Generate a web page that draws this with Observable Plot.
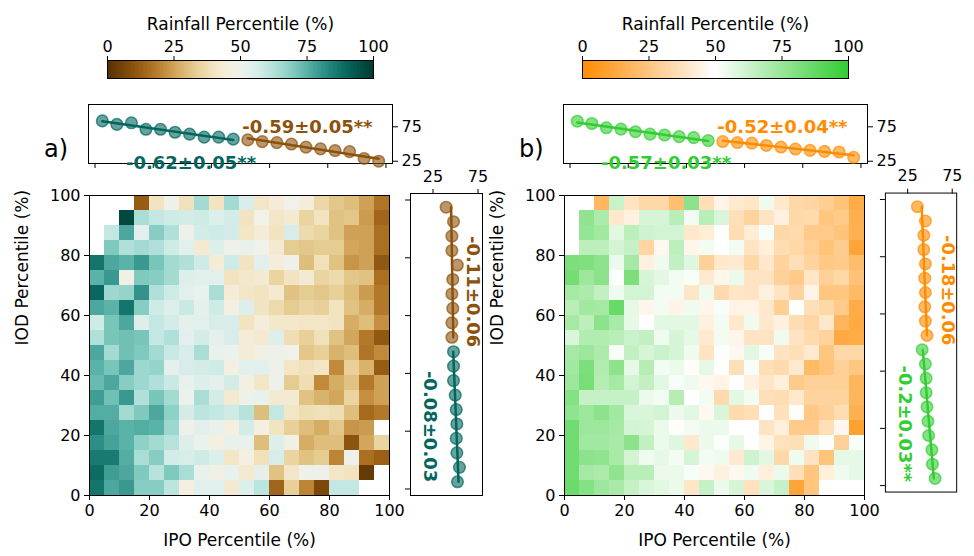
<!DOCTYPE html>
<html>
<head>
<meta charset="utf-8">
<script src="https://cdn.jsdelivr.net/npm/d3@7"></script>
<script src="https://cdn.jsdelivr.net/npm/@observablehq/plot@0.6"></script>
<style>
  body { margin: 0; background: #fff; }
  #fig { position: relative; width: 974px; height: 556px; font-family: "DejaVu Sans", sans-serif; overflow: hidden; }
  #fig > div { position: absolute; }
  .tag { font-size: 24px; color: #000; }
</style>
</head>
<body>
<div id="fig"></div>
<script>
// ---- bins (percent) ----
const ipoBins = [0, 5, 10, 15, 20, 25, 30, 35, 40, 45, 50, 55, 60, 65, 70, 75, 80, 85, 90, 95];
const iodBinsTop = [95, 90, 85, 80, 75, 70, 65, 60, 55, 50, 45, 40, 35, 30, 25, 20, 15, 10, 5, 0];
const binWidth = 5;
const lowMids = [2.5, 7.5, 12.5, 17.5, 22.5, 27.5, 32.5, 37.5, 42.5, 47.5];
const highMids = [52.5, 57.5, 62.5, 67.5, 72.5, 77.5, 82.5, 87.5, 92.5, 97.5];
const cbarTicks = [0, 25, 50, 75, 100];
const axisTicks = [0, 20, 40, 60, 80, 100];
const margTicks = [25, 75];

// ---- a) rainfall percentile by IPO (columns) and IOD (rows, top = 95-100) ----
const rainA = [
  [null,null,null,12,40,50,39,65,40,65, 56,41,44,49,45,36,32,30,25,17],
  [null,null,97,64,60,58,57,58,55,57, 40,49,41,43,35,40,31,32,24,14],
  [null,60,77,54,69,63,50,57,58,57, 41,44,40,56,37,35,31,25,25,16],
  [null,70,63,65,63,58,54,43,55,50, 52,49,43,33,32,33,33,26,25,16],
  [87,77,75,80,71,65,63,58,44,58, 40,54,45,50,30,39,31,23,25,11],
  [75,80,48,70,69,65,55,54,54,40, 42,43,35,40,43,35,37,32,31,16],
  [90,66,67,81,63,58,54,52,64,44, 41,40,43,31,33,32,34,30,24,18],
  [77,75,87,69,58,55,59,53,58,47, 55,40,37,33,35,34,40,31,27,18],
  [58,71,77,55,60,57,53,54,56,56, 40,45,42,42,41,41,40,27,30,22],
  [63,71,72,71,60,63,54,57,53,56, 44,43,55,38,34,39,31,26,18,11],
  [77,65,72,70,65,59,56,64,52,51, 44,48,50,49,32,34,28,30,17,21],
  [75,71,77,66,67,53,56,57,58,47, 54,54,50,41,39,41,21,34,28,12],
  [73,77,69,66,63,59,52,55,53,57, 47,41,50,33,38,21,27,31,18,25],
  [79,72,80,63,71,65,51,64,57,43, 50,52,43,43,31,28,26,35,22,25],
  [76,76,65,70,77,68,57,61,60,58, 62,30,60,41,38,39,38,30,15,18],
  [87,77,75,76,75,66,50,54,52,46, 57,47,40,34,30,27,32,23,24,null],
  [82,78,75,68,65,62,55,51,46,52, 52,30,55,48,27,30,30,10,26,35],
  [86,86,76,64,69,57,56,58,55,41, 47,39,56,35,31,33,20,50,16,13],
  [89,79,77,70,62,70,64,52,48,52, 43,53,31,41,50,50,41,40,3,null],
  [87,77,80,69,69,61,46,54,54,43, 55,61,14,34,20,7,60,60,null,null]
];

// ---- b) rainfall percentile, second dataset ----
const rainB = [
  [null,null,19,63,38,33,33,22,78,36, 45,41,39,54,40,33,32,29,24,14],
  [null,77,70,40,44,60,60,67,53,67, 59,36,31,38,44,33,34,25,27,15],
  [null,76,73,57,66,62,61,61,40,42, 50,35,42,52,33,34,27,27,24,16],
  [null,66,66,61,64,32,47,66,46,53, 50,53,38,43,35,33,29,24,28,11],
  [82,81,78,55,72,44,54,65,58,30, 40,41,33,40,31,36,31,26,27,21],
  [84,74,78,51,82,60,57,53,52,41, 46,55,38,38,30,27,39,30,33,23],
  [72,70,65,54,61,61,53,53,39,54, 34,39,38,44,38,31,45,25,25,20],
  [67,73,72,87,56,46,53,45,54,46, 52,45,45,40,29,50,36,33,27,14],
  [72,66,78,71,56,50,57,57,57,44, 53,40,54,40,44,35,32,40,18,13],
  [59,69,69,67,63,65,54,60,56,41, 53,46,38,38,54,38,34,31,13,14],
  [72,74,70,52,65,60,63,60,54,38, 51,47,57,52,38,36,41,25,33,33],
  [73,82,69,78,56,68,53,55,49,56, 50,36,52,36,34,41,20,24,30,25],
  [74,83,68,72,61,65,57,52,54,47, 45,50,44,39,43,27,30,30,30,18],
  [80,64,64,64,64,55,53,68,50,53, 34,57,53,36,35,40,31,31,31,18],
  [77,74,78,73,59,59,61,55,57,47, 59,34,36,50,37,49,26,30,35,16],
  [85,74,74,72,61,60,55,49,53,55, 55,50,50,38,43,27,27,36,47,9],
  [85,73,73,71,78,65,55,58,40,55, 51,56,50,45,37,36,54,51,30,52],
  [85,78,77,71,61,54,56,53,60,53, 54,41,62,57,33,54,38,24,56,56],
  [85,72,70,77,67,67,55,55,52,47, 44,47,54,43,55,36,25,43,54,56],
  [86,80,74,71,64,59,57,55,39,64, 55,60,37,59,64,11,25,null,null,null]
];

// ---- marginal means: rainfall percentile vs IPO (top) and vs IOD (side) ----
const topA_low  = [83.6, 78.5, 80.8, 71.4, 71.4, 67.1, 64.3, 60.0, 60.0, 57.1];
const topA_high = [56.0, 53.5, 52.0, 50.0, 45.5, 43.0, 40.5, 39.0, 29.0, 25.0];
const sideA_low  = [52.2, 54.4, 51.5, 50.8, 51.5, 50.8, 49.7, 47.8, 47.8, 47.8];
const sideA_high = [46.0, 46.0, 47.0, 46.0, 47.0, 52.0, 46.0, 46.0, 47.8, 39.6];

const topB_low  = [83.1, 79.8, 73.6, 71.7, 67.9, 64.3, 63.1, 60.7, 59.3, 55.0];
const topB_high = [53.6, 52.1, 51.3, 47.9, 45.6, 42.7, 40.7, 39.3, 38.4, 30.7];
const sideB_low  = [55.8, 52.8, 52.2, 48.5, 47.8, 46.7, 45.7, 45.7, 44.9, 41.3];
const sideB_high = [46.7, 44.9, 44.2, 44.9, 44.2, 44.9, 43.1, 43.1, 44.9, 35.9];

// ---- trend labels ----
const labelsA = { topLow: "-0.62\u00b10.05**", topHigh: "-0.59\u00b10.05**", sideLow: "-0.08\u00b10.03", sideHigh: "-0.11\u00b10.06" };
const labelsB = { topLow: "-0.57\u00b10.03**", topHigh: "-0.52\u00b10.04**", sideLow: "-0.2\u00b10.03**", sideHigh: "-0.18\u00b10.06" };

const fig = document.getElementById("fig");
const baseStyle = { fontFamily: "DejaVu Sans", fontSize: "16px", color: "black", background: "transparent", overflow: "visible" };

function place(node, left, top) {
  const d = document.createElement("div");
  d.style.left = left + "px";
  d.style.top = top + "px";
  d.appendChild(node);
  fig.appendChild(d);
}

function cellsOf(grid) {
  const out = [];
  grid.forEach((row, r) => row.forEach((v, c) => {
    if (v != null) out.push({ x1: ipoBins[c], x2: ipoBins[c] + binWidth, y1: iodBinsTop[r], y2: iodBinsTop[r] + binWidth, v });
  }));
  return out;
}

function pairs(xs, ys) { return xs.map((x, i) => ({ x, y: ys[i] })); }

function drawPanel(ox, grid, color, cLow, cHigh, tops, sides, labels, tag) {
  // colour bar
  const slices = d3.range(0, 100, 0.5);
  place(Plot.plot({
    width: 300, height: 80, marginLeft: 17, marginRight: 17, marginTop: 60, marginBottom: 2,
    style: baseStyle,
    x: { domain: [0, 100] },
    y: { domain: [0, 1], axis: null },
    color,
    marks: [
      Plot.rect(slices, { x1: d => d, x2: d => d + 0.5, y1: 0, y2: 1, fill: d => d + 0.25, shapeRendering: "crispEdges" }),
      Plot.frame({ stroke: "black" }),
      Plot.axisX({ anchor: "top", ticks: cbarTicks, tickSize: 5, tickPadding: 4, label: null }),
      Plot.text(["Rainfall Percentile (%)"], { frameAnchor: "top", dy: -43, fontSize: 17 })
    ]
  }), ox + 90, 0);

  // top marginal: rainfall vs IPO
  place(Plot.plot({
    width: 440, height: 90, marginLeft: 88, marginRight: 48, marginTop: 14, marginBottom: 17,
    style: baseStyle,
    x: { domain: [-2.25, 102.25] },
    y: { domain: [21.7, 107.4] },
    marks: [
      Plot.frame({ stroke: "black" }),
      Plot.axisY({ anchor: "right", ticks: margTicks, tickSize: 5, label: null }),
      Plot.axisX({ anchor: "bottom", ticks: axisTicks, tickSize: 5, tickFormat: () => "", label: null }),
      Plot.linearRegressionY(pairs(lowMids, tops[0]), { x: "x", y: "y", stroke: cLow, strokeWidth: 2.5, ci: 0 }),
      Plot.linearRegressionY(pairs(highMids, tops[1]), { x: "x", y: "y", stroke: cHigh, strokeWidth: 2.5, ci: 0 }),
      Plot.dot(pairs(lowMids, tops[0]), { x: "x", y: "y", r: 5.8, fill: cLow, fillOpacity: 0.6, stroke: cLow, strokeOpacity: 0.7 }),
      Plot.dot(pairs(highMids, tops[1]), { x: "x", y: "y", r: 5.8, fill: cHigh, fillOpacity: 0.6, stroke: cHigh, strokeOpacity: 0.7 }),
      Plot.text([labels.topHigh], { x: 73, y: 74, fill: cHigh, fontSize: 18, fontWeight: "bold" }),
      Plot.text([labels.topLow], { x: 33, y: 21.7, fill: cLow, fontSize: 18, fontWeight: "bold" })
    ]
  }), ox, 90);

  // heatmap
  place(Plot.plot({
    width: 400, height: 376, marginLeft: 89, marginRight: 11, marginTop: 15, marginBottom: 61,
    style: baseStyle,
    x: { domain: [0, 100] },
    y: { domain: [0, 100] },
    color,
    marks: [
      Plot.rect(cellsOf(grid), { x1: "x1", x2: "x2", y1: "y1", y2: "y2", fill: "v", shapeRendering: "crispEdges" }),
      Plot.frame({ stroke: "black" }),
      Plot.axisX({ ticks: axisTicks, tickSize: 5, tickPadding: 4, label: null }),
      Plot.axisY({ ticks: axisTicks, tickSize: 5, tickPadding: 4, label: null }),
      Plot.text(["IPO Percentile (%)"], { frameAnchor: "bottom", dy: 50, fontSize: 17 }),
      Plot.text(["IOD Percentile (%)"], { frameAnchor: "left", dx: -67, rotate: -90, fontSize: 17 })
    ]
  }), ox, 180);

  // side marginal: rainfall vs IOD
  place(Plot.plot({
    width: 100, height: 350, marginLeft: 10, marginRight: 18, marginTop: 43, marginBottom: 5,
    style: baseStyle,
    x: { domain: [0, 80] },
    y: { domain: [-2.25, 102.25] },
    marks: [
      Plot.frame({ stroke: "black" }),
      Plot.axisX({ anchor: "top", ticks: margTicks, tickSize: 5, tickPadding: 7, label: null }),
      Plot.axisY({ anchor: "left", ticks: axisTicks, tickSize: 5, tickFormat: () => "", label: null }),
      Plot.linearRegressionX(pairs(lowMids, sides[0]), { y: "x", x: "y", stroke: cLow, strokeWidth: 2.5, ci: 0 }),
      Plot.linearRegressionX(pairs(highMids, sides[1]), { y: "x", x: "y", stroke: cHigh, strokeWidth: 2.5, ci: 0 }),
      Plot.dot(pairs(lowMids, sides[0]), { y: "x", x: "y", r: 5.8, fill: cLow, fillOpacity: 0.6, stroke: cLow, strokeOpacity: 0.7 }),
      Plot.dot(pairs(highMids, sides[1]), { y: "x", x: "y", r: 5.8, fill: cHigh, fillOpacity: 0.6, stroke: cHigh, strokeOpacity: 0.7 }),
      Plot.text([labels.sideHigh], { x: 69.7, y: 68.3, rotate: 90, fill: cHigh, fontSize: 18, fontWeight: "bold" }),
      Plot.text([labels.sideLow], { x: 21.4, y: 21.6, rotate: 90, fill: cLow, fontSize: 18, fontWeight: "bold" })
    ]
  }), ox + 400, 150);

  const t = document.createElement("div");
  t.className = "tag";
  t.textContent = tag;
  place(t, ox + 44, 135);
}

const colorA = { type: "linear", domain: [0, 100], scheme: "BrBG" };
const colorB = { type: "linear", domain: [0, 50, 100], range: ["#ff8c00", "#ffffff", "#32cd32"], interpolate: "rgb" };

drawPanel(0, rainA, colorA, "#01665e", "#8c510a", [topA_low, topA_high], [sideA_low, sideA_high], labelsA, "a)");
drawPanel(475, rainB, colorB, "#32cd32", "#ff8c00", [topB_low, topB_high], [sideB_low, sideB_high], labelsB, "b)");
</script>
</body>
</html>
